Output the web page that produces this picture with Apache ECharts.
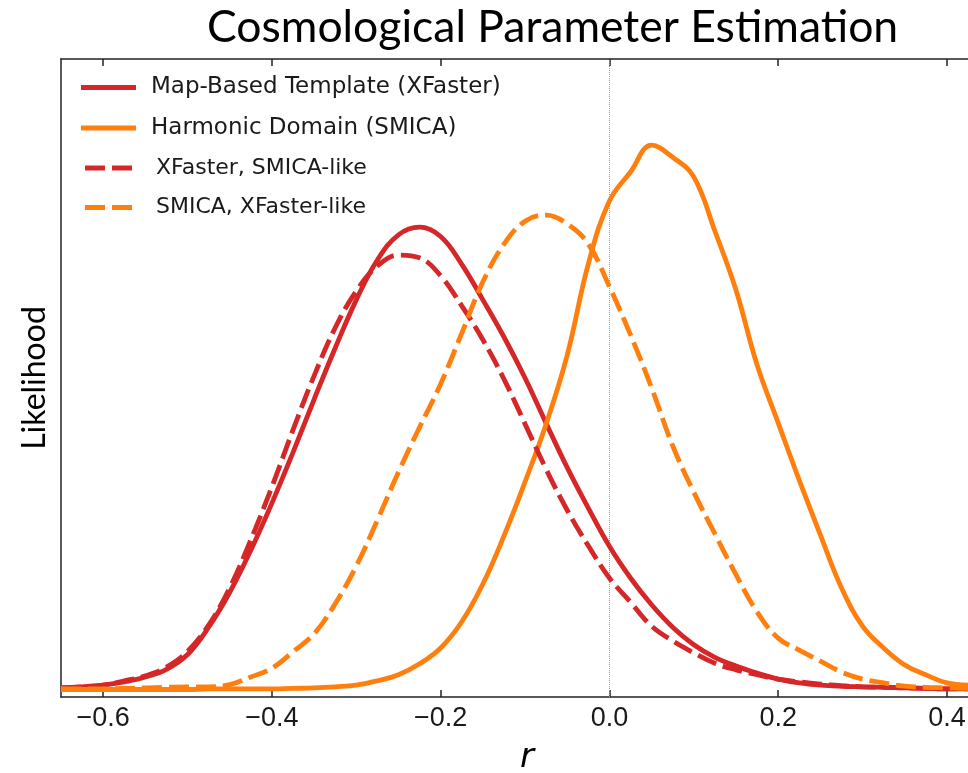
<!DOCTYPE html>
<html>
<head>
<meta charset="utf-8">
<title>Cosmological Parameter Estimation</title>
<script src="https://cdn.jsdelivr.net/npm/echarts@6/dist/echarts.min.js"></script>
<style>
  html, body { margin: 0; padding: 0; background: #ffffff; }
  #chart { width: 968px; height: 773px; }
</style>
</head>
<body>
<div id="chart"></div>
<script>
// Tensor-to-scalar ratio grid on which the posteriors are sampled
const rValues = [
  -0.650, -0.625, -0.600, -0.575, -0.550, -0.525, -0.500, -0.475, -0.450, -0.425,
  -0.400, -0.375, -0.350, -0.325, -0.300, -0.275, -0.250, -0.225, -0.200, -0.175,
  -0.150, -0.125, -0.100, -0.075, -0.050, -0.025, 0.000, 0.025, 0.050, 0.075,
  0.100, 0.125, 0.150, 0.175, 0.200, 0.225, 0.250, 0.275, 0.300, 0.325,
  0.350, 0.375, 0.400, 0.425
];

// Likelihoods (arbitrary normalisation)
const mapBasedXFaster = [
  0.003, 0.005, 0.008, 0.014, 0.023, 0.037, 0.064, 0.114, 0.178, 0.255,
  0.341, 0.434, 0.531, 0.625, 0.713, 0.786, 0.832, 0.846, 0.829, 0.778,
  0.713, 0.645, 0.570, 0.487, 0.406, 0.332, 0.262, 0.204, 0.155, 0.114,
  0.082, 0.059, 0.043, 0.030, 0.019, 0.012, 0.008, 0.006, 0.005, 0.004,
  0.003, 0.002, 0.001, 0.001
];
const harmonicSMICA = [
  0.000, 0.000, 0.000, 0.000, 0.000, 0.000, 0.000, 0.001, 0.001, 0.001,
  0.001, 0.002, 0.003, 0.005, 0.008, 0.016, 0.027, 0.047, 0.076, 0.124,
  0.193, 0.281, 0.380, 0.486, 0.612, 0.779, 0.894, 0.947, 0.996, 0.974,
  0.938, 0.839, 0.731, 0.594, 0.488, 0.383, 0.283, 0.186, 0.116, 0.076,
  0.045, 0.027, 0.012, 0.008
];
const xfasterSmicaLike = [
  0.003, 0.005, 0.008, 0.016, 0.025, 0.041, 0.070, 0.118, 0.186, 0.274,
  0.371, 0.475, 0.574, 0.662, 0.729, 0.775, 0.795, 0.790, 0.757, 0.702,
  0.640, 0.568, 0.486, 0.403, 0.328, 0.263, 0.204, 0.160, 0.116, 0.089,
  0.067, 0.048, 0.036, 0.027, 0.019, 0.014, 0.010, 0.007, 0.005, 0.004,
  0.003, 0.002, 0.001, 0.001
];
const smicaXFasterLike = [
  0.001, 0.001, 0.001, 0.002, 0.003, 0.004, 0.005, 0.005, 0.009, 0.023,
  0.039, 0.069, 0.102, 0.157, 0.226, 0.310, 0.398, 0.480, 0.559, 0.652,
  0.746, 0.815, 0.857, 0.868, 0.852, 0.815, 0.737, 0.649, 0.552, 0.446,
  0.361, 0.285, 0.210, 0.142, 0.094, 0.072, 0.052, 0.032, 0.019, 0.012,
  0.006, 0.004, 0.003, 0.002
];

const seriesNames = [
  'Map-Based Template (XFaster)',
  'Harmonic Domain (SMICA)',
  'XFaster, SMICA-like',
  'SMICA, XFaster-like'
];
const xTicks = [-0.6, -0.4, -0.2, 0.0, 0.2, 0.4];

const RED = '#d62728';
const ORANGE = '#ff7f0e';
const AXIS = '#222222';
const DASH = [20, 7];

// Legend keys: a solid bar and a pair of dashes
const SOLID_KEY = 'path://M0,0H55V5H0Z';
const DASHED_KEY = 'path://M0,0H20V5H0Z M27,0H47V5H27Z';

const pairs = vals => rValues.map((r, i) => [r, vals[i]]);
const tickText = v => (v < 0 ? '\u2212' : '') + Math.abs(v).toFixed(1);

function curve(name, vals, color, dashed, extra) {
  return Object.assign({
    name: name,
    type: 'line',
    data: pairs(vals),
    symbol: 'none',
    showSymbol: false,
    smooth: 0.4,
    silent: true,
    lineStyle: {
      color: color,
      width: 4.8,
      type: dashed ? DASH : 'solid',
      cap: 'butt'
    },
    itemStyle: { color: color }
  }, extra || {});
}

function legendItem(name, color, dashed, size, gap) {
  return {
    name: name,
    icon: dashed ? DASHED_KEY : SOLID_KEY,
    itemStyle: { color: color, borderWidth: 0 },
    textStyle: { fontSize: size, padding: [0, 0, 0, gap] }
  };
}

const chart = echarts.init(document.getElementById('chart'), null, { renderer: 'canvas' });

chart.setOption({
  backgroundColor: '#ffffff',
  animation: false,
  title: {
    text: 'Cosmological Parameter Estimation',
    left: 207,
    top: 5,
    padding: 0,
    textStyle: {
      fontFamily: 'Lato',
      fontWeight: 'normal',
      fontSize: 44.5,
      color: '#000000'
    }
  },
  legend: {
    orient: 'vertical',
    left: 81,
    top: 76,
    padding: 0,
    itemWidth: 55,
    itemHeight: 5,
    itemGap: 17.5,
    symbolKeepAspect: true,
    selectedMode: false,
    textStyle: { fontFamily: 'DejaVu Sans', color: '#1a1a1a' },
    data: [
      legendItem(seriesNames[0], RED, false, 23, 10),
      legendItem(seriesNames[1], ORANGE, false, 23, 10),
      legendItem(seriesNames[2], RED, true, 22, 15),
      legendItem(seriesNames[3], ORANGE, true, 22, 15)
    ]
  },
  grid: {
    left: 61,
    right: 0,
    top: 59,
    bottom: 76,
    containLabel: false,
    outerBoundsMode: 'none'
  },
  xAxis: [
    {
      type: 'value',
      min: -0.65,
      max: 0.425,
      position: 'bottom',
      name: 'r',
      nameLocation: 'middle',
      nameGap: 44,
      nameTextStyle: {
        fontFamily: 'DejaVu Sans',
        fontStyle: 'italic',
        fontSize: 34,
        color: '#000000',
        padding: [0, 0, 0, 25]
      },
      axisLine: { show: true, onZero: false, lineStyle: { color: AXIS, width: 1.5 } },
      axisTick: {
        show: true,
        inside: true,
        length: 7,
        customValues: xTicks,
        lineStyle: { color: AXIS, width: 1.5 }
      },
      axisLabel: {
        show: true,
        margin: 8,
        customValues: xTicks,
        formatter: tickText,
        fontFamily: 'Liberation Sans',
        fontSize: 27,
        color: '#1a1a1a'
      },
      splitLine: { show: false }
    },
    {
      type: 'value',
      min: -0.65,
      max: 0.425,
      position: 'top',
      axisLine: { show: true, onZero: false, lineStyle: { color: AXIS, width: 1.5 } },
      axisTick: {
        show: true,
        inside: true,
        length: 7,
        customValues: xTicks,
        lineStyle: { color: AXIS, width: 1.5 }
      },
      axisLabel: { show: false },
      splitLine: { show: false }
    }
  ],
  yAxis: {
    type: 'value',
    min: -0.0137,
    max: 1.1537,
    name: 'Likelihood',
    nameLocation: 'middle',
    nameRotate: 90,
    nameGap: 10,
    nameTextStyle: {
      fontFamily: 'Lato',
      fontSize: 32,
      color: '#000000'
    },
    axisLine: { show: true, onZero: false, lineStyle: { color: AXIS, width: 1.5 } },
    axisTick: { show: false },
    axisLabel: { show: false },
    splitLine: { show: false }
  },
  series: [
    curve(seriesNames[0], mapBasedXFaster, RED, false, {
      markLine: {
        silent: true,
        symbol: ['none', 'none'],
        label: { show: false },
        lineStyle: { color: '#9a9a9a', width: 1, type: 'dotted' },
        data: [{ xAxis: 0 }],
        z: 1
      }
    }),
    curve(seriesNames[1], harmonicSMICA, ORANGE, false),
    curve(seriesNames[2], xfasterSmicaLike, RED, true),
    curve(seriesNames[3], smicaXFasterLike, ORANGE, true)
  ]
});
</script>
</body>
</html>
